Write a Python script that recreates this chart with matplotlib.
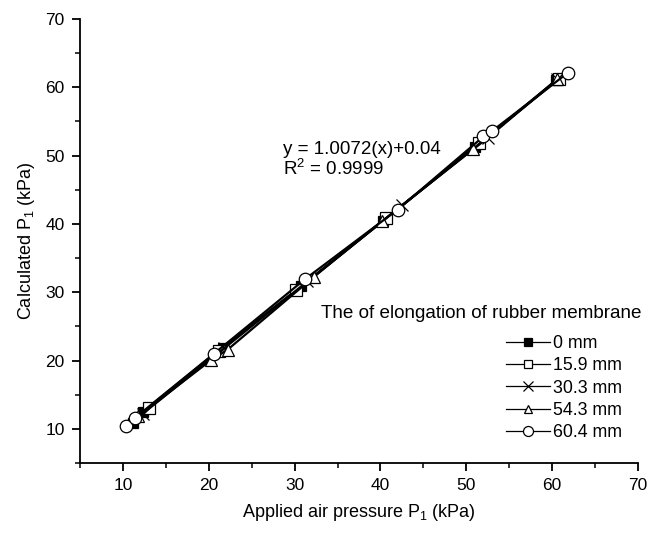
import matplotlib
matplotlib.use("Agg")
import matplotlib.pyplot as plt
from matplotlib.lines import Line2D
from matplotlib.ticker import MultipleLocator

plt.rcParams['font.family'] = ['Liberation Sans', 'DejaVu Sans']
plt.rcParams['mathtext.fontset'] = 'custom'
plt.rcParams['mathtext.rm'] = 'Liberation Sans'
plt.rcParams['mathtext.it'] = 'Liberation Sans:italic'

# Applied vs calculated pressure for each membrane elongation
labels = ['0 mm', '15.9 mm', '30.3 mm', '54.3 mm', '60.4 mm']
applied = [
    [11.2, 12.3, 21.6, 30.8, 40.3, 51.0, 60.5],
    [13.0, 21.2, 30.2, 40.6, 51.5, 60.8],
    [12.3, 21.8, 31.5, 42.5, 52.5, 60.6],
    [11.8, 20.3, 22.2, 32.2, 40.2, 50.8, 60.6],
    [10.4, 11.4, 20.6, 31.2, 42.0, 52.0, 53.0, 61.8],
]
calculated = [
    [10.8, 12.5, 21.9, 30.9, 40.4, 51.3, 61.0],
    [13.0, 21.4, 30.3, 40.8, 51.8, 61.2],
    [12.2, 21.8, 31.6, 42.7, 52.6, 61.2],
    [11.9, 20.1, 21.6, 32.2, 40.4, 51.0, 61.2],
    [10.4, 11.6, 21.0, 31.9, 42.1, 52.8, 53.6, 62.1],
]
markers = ['s', 's', 'x', '^', 'o']
fills = ['black', 'white', 'none', 'white', 'white']
sizes = [7, 8, 9, 8, 9]

fit_text = 'y = 1.0072(x)+0.04'
r2_text = 'R$^2$ = 0.9999'
legend_title = 'The of elongation of rubber membrane'

fig = plt.figure(figsize=(6.52, 5.33), dpi=100)
ax = fig.add_axes([80 / 652, 70 / 533, 558 / 652, 444 / 533])

handles = []
for xs, ys, m, fc, ms, lab in zip(applied, calculated, markers, fills, sizes, labels):
    ax.plot(xs, ys, '-', color='black', lw=1.6, marker=m, ms=ms,
            mfc=fc, mec='black', mew=0.9)
    handles.append(Line2D([], [], color='black', lw=0.9, marker=m, ms=ms * 0.8,
                          mfc=fc, mec='black', mew=0.9, label=lab))

ax.set_xlim(5, 70)
ax.set_ylim(5, 70)
ax.xaxis.set_minor_locator(MultipleLocator(5))
ax.yaxis.set_minor_locator(MultipleLocator(5))
ax.set_xticks([10, 20, 30, 40, 50, 60, 70])
ax.set_yticks([10, 20, 30, 40, 50, 60, 70])

for side in ['top', 'right']:
    ax.spines[side].set_visible(False)
for side in ['left', 'bottom']:
    ax.spines[side].set_linewidth(1.3)
ax.tick_params(which='major', direction='out', length=6, width=1.3, labelsize=12.5, pad=5)
ax.tick_params(which='minor', direction='out', length=3.5, width=1.1)

ax.set_xlabel('Applied air pressure P$_1$ (kPa)', fontsize=13, labelpad=6)
ax.set_ylabel('Calculated P$_1$ (kPa)', fontsize=13, labelpad=6)

ax.text(28.6, 50.9, fit_text, fontsize=13.5, ha='left', va='center')
ax.text(28.6, 48.0, r2_text, fontsize=13.5, ha='left', va='center')

fig.text(321 / 652, 1 - 313 / 533, legend_title, fontsize=13.6, ha='left', va='center')
ax.legend(handles=handles, loc='upper left', bbox_to_anchor=(506 / 652, 1 - 335 / 533),
          bbox_transform=fig.transFigure, frameon=False, fontsize=12.8,
          handlelength=2.5, handletextpad=0.15, labelspacing=0.3,
          borderpad=0, borderaxespad=0)

fig.savefig('out.png', dpi=100)
